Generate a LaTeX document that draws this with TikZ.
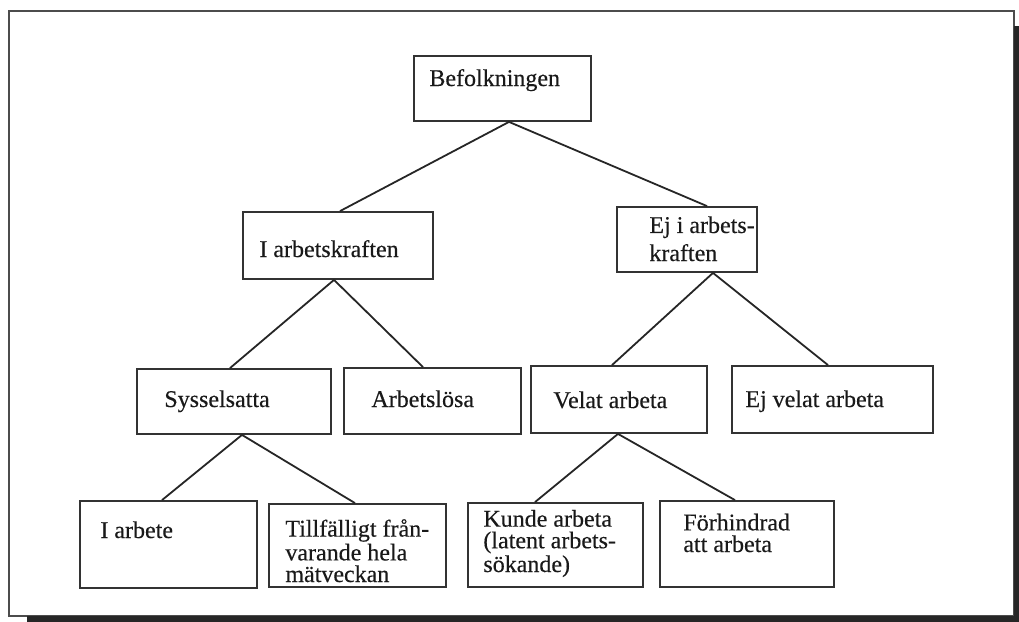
\documentclass[tikz,border=0pt]{standalone}
\usepackage{fontspec}
\setmainfont{Liberation Serif}
\newfontfamily\inkfont{Liberation Serif}[FakeBold=0.35]
\begin{document}
\begin{tikzpicture}[x=0.5pt,y=-0.5pt,
  box/.style={draw=black!80, line width=0.9pt, inner sep=0pt},
  txt/.style={anchor=base west, inner sep=0pt, align=left, text=black!90,
    font=\inkfont\fontsize{12pt}{10.8pt}\selectfont},
  link/.style={draw=black!85, line width=0.9pt}]
\useasboundingbox (0,0) rectangle (1019,622);
% frame with shadow
\draw[black!70, line width=0.9pt] (9,11) rectangle (1014,616);
\fill[black!85] (27,616) rectangle (1019,622);
\fill[black!85] (1014,26) rectangle (1019,622);
% boxes
\node[box, minimum width=88.5pt, minimum height=32.5pt] (bef) at (502.5,88.5) {};
\node[box, minimum width=95pt, minimum height=33.5pt] (ark) at (338,245.5) {};
\node[box, minimum width=70pt, minimum height=32.5pt] (ejark) at (687,239.5) {};
\node[box, minimum width=97pt, minimum height=32.5pt] (sys) at (234,401.5) {};
\node[box, minimum width=88.5pt, minimum height=33pt] (alos) at (432.5,401) {};
\node[box, minimum width=88pt, minimum height=33.5pt] (velat) at (619,399.5) {};
\node[box, minimum width=100.5pt, minimum height=33.5pt] (ejvel) at (832.5,399.5) {};
\node[box, minimum width=88.5pt, minimum height=43.5pt] (iarb) at (168.5,544.5) {};
\node[box, minimum width=88.5pt, minimum height=41.5pt] (tillf) at (357.5,545.5) {};
\node[box, minimum width=87.5pt, minimum height=42pt] (kunde) at (555.5,545) {};
\node[box, minimum width=87pt, minimum height=43pt] (forh) at (747,544) {};
% texts (multi-line nodes: base = last line's baseline)
\node[txt] (tbef) at (429,86) {Befolkningen};
\node[txt] (tark) at (259,257) {I arbetskraften};
\node[txt] (tejark) at (649,261) {Ej i arbets-\\[2pt]kraften};
\node[txt] (tsys) at (164,407) {Sysselsatta};
\node[txt] (talos) at (371,407) {Arbetslösa};
\node[txt] (tvelat) at (553,408) {Velat arbeta};
\node[txt] (tejvel) at (745,407) {Ej velat arbeta};
\node[txt] (tiarb) at (100,538) {I arbete};
\node[txt] (ttillf) at (285,582) {Tillfälligt från-\\varande hela\\mätveckan};
\node[txt] (tkunde) at (483,572) {Kunde arbeta\\(latent arbets-\\sökande)};
\node[txt] (tforh) at (683,552) {Förhindrad\\att arbeta};
% connectors
\draw[link] ([xshift=3.25pt]bef.south) -- ([xshift=1pt]ark.north);
\draw[link] ([xshift=3.25pt]bef.south) -- ([xshift=10pt]ejark.north);
\draw[link] ([xshift=-2pt]ark.south) -- ([xshift=-2pt]sys.north);
\draw[link] ([xshift=-2pt]ark.south) -- ([xshift=-4.75pt]alos.north);
\draw[link] ([xshift=13pt]ejark.south) -- ([xshift=-3.5pt]velat.north);
\draw[link] ([xshift=13pt]ejark.south) -- ([xshift=-2.25pt]ejvel.north);
\draw[link] ([xshift=4pt]sys.south) -- ([xshift=-3.25pt]iarb.north);
\draw[link] ([xshift=4pt]sys.south) -- ([xshift=-1.25pt]tillf.north);
\draw[link] ([xshift=-0.5pt]velat.south) -- ([xshift=-10.25pt]kunde.north);
\draw[link] ([xshift=-0.5pt]velat.south) -- ([xshift=-6pt]forh.north);
\end{tikzpicture}
\end{document}
